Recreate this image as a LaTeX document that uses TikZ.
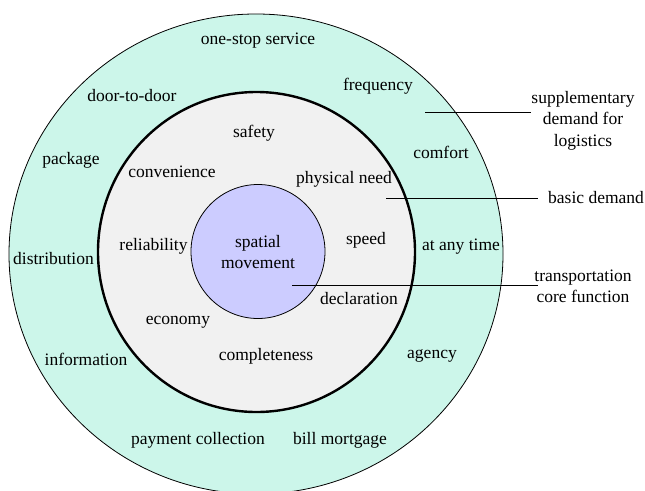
\documentclass[tikz,border=0pt]{standalone}
\usepackage{fontspec}
\setmainfont{Liberation Serif}
\definecolor{ringout}{RGB}{204,246,234}
\definecolor{ringmid}{RGB}{241,241,241}
\definecolor{corecol}{RGB}{204,204,255}

\tikzset{
  item/.style={font=\fontsize{17.5}{21.5}\selectfont, inner sep=0pt,
    text height=0.68em, text depth=0.2em},
  note/.style={font=\fontsize{17.5}{21.5}\selectfont, inner sep=0pt, align=center},
  leader/.style={line width=0.9pt}
}

\begin{document}
\begin{tikzpicture}[x=1pt,y=-1pt]
  \path[use as bounding box] (0,0) rectangle (645,490);
  \clip (0,0) rectangle (645,490);
  \fill[white] (0,0) rectangle (645,490);

  % three rings
  \draw[fill=ringout, line width=0.8pt] (256,254) ellipse [x radius=247, y radius=240];
  \draw[fill=ringmid, line width=2.4pt] (256.5,252) ellipse [x radius=158.5, y radius=160];
  \draw[fill=corecol, line width=0.8pt] (258,251.5) circle [radius=67];

  % outer ring: supplementary demand
  \node[item] (onestop) at (258,42) {one-stop service};
  \node[item] (freq) at (378,88) {frequency};
  \node[item] (door) at (132,99) {door-to-door};
  \node[item] (pack) at (71,162) {package};
  \node[item] (comfort) at (441,156) {comfort};
  \node[item] (anytime) at (461,248) {at any time};
  \node[item] (distr) at (53.5,262) {distribution};
  \node[item] (info) at (86,363) {information};
  \node[item] (agency) at (432,356) {agency};
  \node[item] (payment) at (198,442) {payment collection};
  \node[item] (bill) at (340,442) {bill mortgage};

  % middle ring: basic demand
  \node[item] (safety) at (254,135) {safety};
  \node[item] (conv) at (172,175) {convenience};
  \node[item] (phys) at (344,181) {physical need};
  \node[item] (reliab) at (153.5,248) {reliability};
  \node[item] (speed) at (366,242) {speed};
  \node[item] (decl) at (359,302) {declaration};
  \node[item] (econ) at (178,322) {economy};
  \node[item] (complete) at (266,358) {completeness};

  % core
  \node[note] (spatial) at (258,252) {spatial\\movement};

  % legend on the right
  \node[note] (supp) at (583,120.5) {supplementary\\demand for\\logistics};
  \node[note, anchor=west, inner xsep=10pt] (basic) at (538,198) {basic demand};
  \node[note] (trans) at (583,286.5) {transportation\\core function};

  \coordinate (supp in) at (425,112);
  \coordinate (basic in) at (386,198);
  \coordinate (trans in) at (292,285);
  \coordinate (trans out) at (538,285);
  \draw[leader] (supp in) -- (supp in -| supp.west);
  \draw[leader] (basic in) -- (basic.west);
  \draw[leader] (trans in) -- (trans out);
\end{tikzpicture}
\end{document}
